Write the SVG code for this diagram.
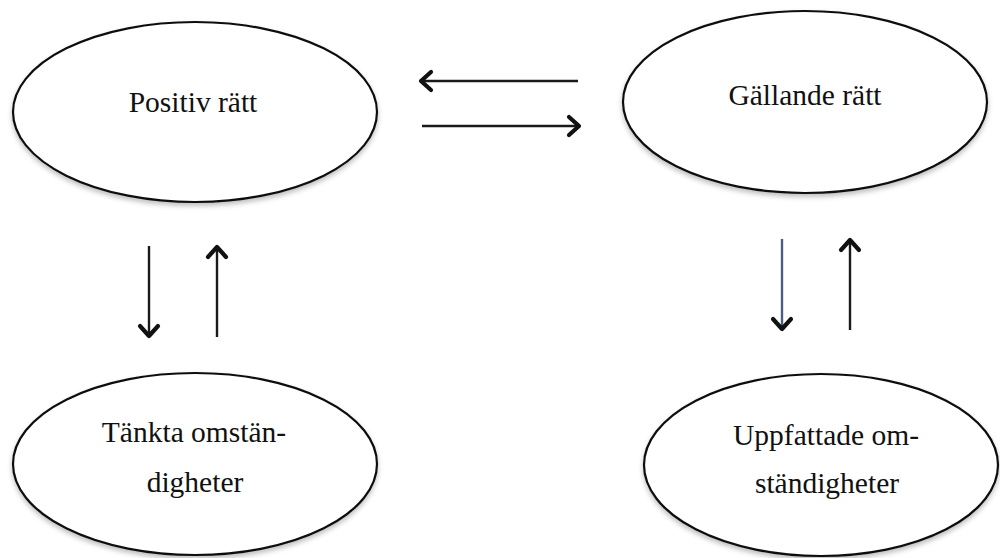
<svg xmlns="http://www.w3.org/2000/svg" width="1000" height="558" viewBox="0 0 1000 558">
  <style>
    .node ellipse { fill: #ffffff; stroke: #111111; stroke-width: 2.2; filter: url(#shadow); }
    .node text { font-family: "Liberation Serif", "Times New Roman", serif; font-size: 29.5px; fill: #111111; text-anchor: middle; }
    .edge { stroke: #1a1a1a; stroke-width: 2.4; fill: none; marker-end: url(#head); }
  </style>
  <defs>
    <filter id="shadow" x="-10%" y="-10%" width="120%" height="130%">
      <feDropShadow dx="0" dy="3" stdDeviation="2.5" flood-color="#000000" flood-opacity="0.25"/>
    </filter>
    <marker id="head" viewBox="0 0 24 24" refX="19" refY="12" markerWidth="24" markerHeight="24" markerUnits="userSpaceOnUse" orient="auto">
      <path d="M9,3 L19,12 L9,21" fill="none" stroke="#111111" stroke-width="4.2" stroke-linecap="round" stroke-linejoin="round"/>
    </marker>
  </defs>

  <rect width="1000" height="558" fill="#ffffff"/>

  <g id="connectors">
    <line class="edge" x1="578" y1="81" x2="421" y2="81"/>
    <line class="edge" x1="422" y1="126" x2="579" y2="126"/>
    <line class="edge" x1="149" y1="246" x2="149" y2="336"/>
    <line class="edge" x1="217" y1="337" x2="217" y2="247"/>
    <line class="edge" x1="782" y1="239" x2="782" y2="329" style="stroke:#4d5f80"/>
    <line class="edge" x1="850" y1="330" x2="850" y2="240"/>
  </g>

  <g id="positiv-ratt" class="node">
    <ellipse cx="195" cy="112" rx="182" ry="90"/>
    <text x="193" y="112">Positiv rätt</text>
  </g>

  <g id="gallande-ratt" class="node">
    <ellipse cx="805" cy="102" rx="182" ry="91"/>
    <text x="805" y="105">Gällande rätt</text>
  </g>

  <g id="tankta-omstandigheter" class="node">
    <ellipse cx="195" cy="464" rx="182" ry="91"/>
    <text x="194" y="442">Tänkta omstän-</text>
    <text x="195" y="492">digheter</text>
  </g>

  <g id="uppfattade-omstandigheter" class="node">
    <ellipse cx="821" cy="465" rx="177" ry="91"/>
    <text x="826" y="445">Uppfattade om-</text>
    <text x="827" y="493">ständigheter</text>
  </g>
</svg>
